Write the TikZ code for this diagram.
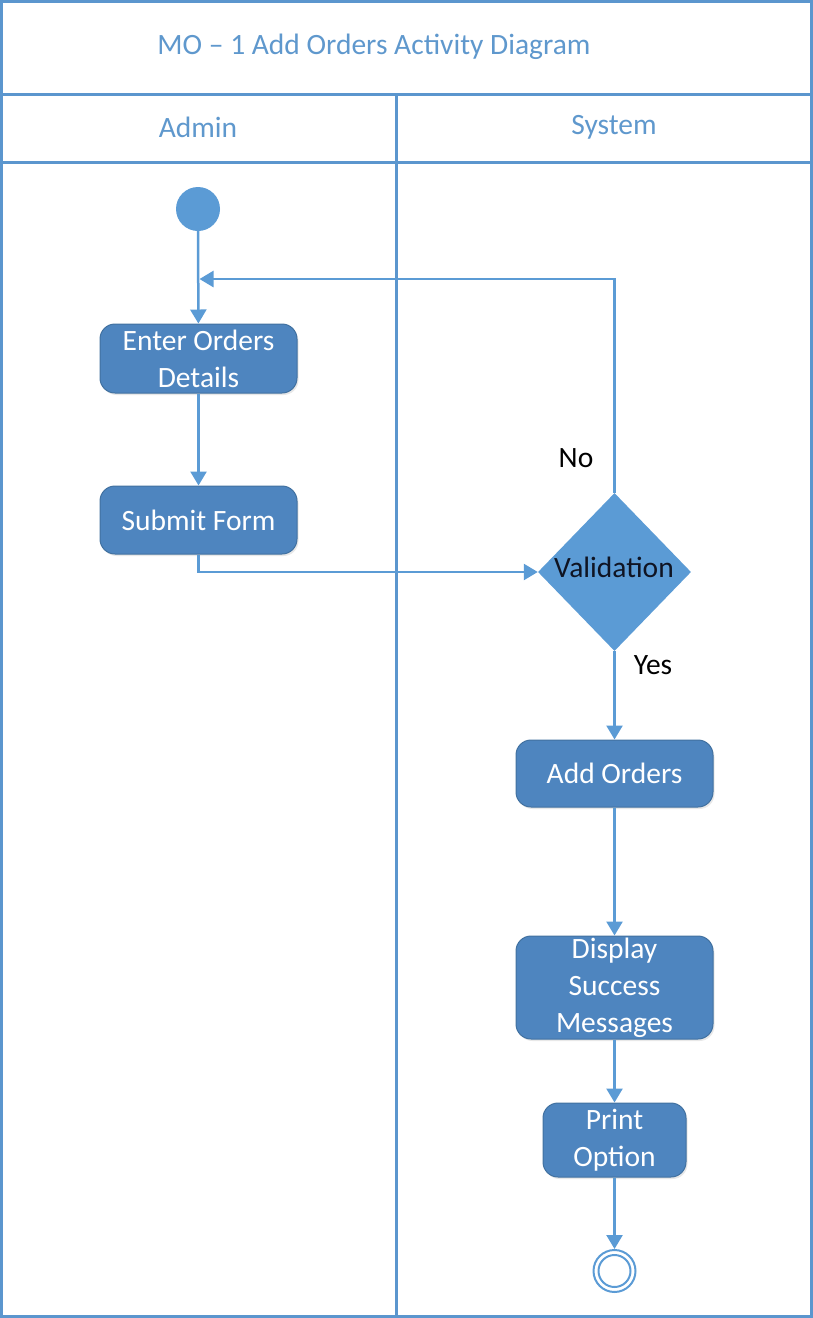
\documentclass[tikz,border=0pt]{standalone}
\usepackage{fontspec}
\setmainfont{Carlito}
\usetikzlibrary{arrows.meta,shapes.geometric,shadows}
\definecolor{frameblue}{RGB}{91,150,206}
\definecolor{lineblue}{RGB}{91,155,213}
\definecolor{boxfill}{RGB}{78,133,191}
\definecolor{boxdraw}{RGB}{65,113,160}
\definecolor{titleblue}{RGB}{95,152,205}
\definecolor{diatext}{RGB}{15,20,35}
\tikzset{
  frameline/.style={draw=frameblue,line width=3pt},
  lanetext/.style={text=titleblue,font=\fontsize{29.5}{34}\selectfont},
  actbox/.style={rectangle,rounded corners=15pt,fill=boxfill,draw=boxdraw,line width=1pt,
    text=white,font=\fontsize{29.5}{37}\selectfont,align=center,inner sep=0pt,
    drop shadow={opacity=0.18,shadow xshift=1.5pt,shadow yshift=-2pt}},
  flow/.style={draw=lineblue,line width=2.5pt,-{Triangle[length=14pt,width=16pt]}},
  lbl/.style={text=black,font=\fontsize{29.5}{34}\selectfont}
}
\begin{document}
\begin{tikzpicture}[x=1pt,y=-1pt]
\useasboundingbox (0,0) rectangle (813,1318);
% frame
\draw[frameline] (1.5,1.5) rectangle (811.5,1316.5);
\draw[frameline] (1.5,94) -- (811.5,94);
\draw[frameline] (1.5,162) -- (811.5,162);
\draw[frameline] (396,94) -- (396,1316.5);
\node[lanetext] (title) at (374,47) {MO – 1 Add Orders Activity Diagram};
\node[lanetext] (admin) at (198,127) {Admin};
\node[lanetext] (system) at (614,127) {System};
% nodes
\node[circle,fill=lineblue,minimum size=44pt,inner sep=0pt] (start) at (198,209) {};
\node[actbox,minimum width=197pt,minimum height=69pt] (enter) at (198.5,358.5) {Enter Orders\\Details};
\node[actbox,minimum width=197pt,minimum height=68pt] (submit) at (198.5,520) {Submit Form};
\node[diamond,fill=lineblue,minimum width=153pt,minimum height=158pt,inner sep=0pt,aspect=1] (dia) at (614.5,572) {};
\node[text=diatext,font=\fontsize{29.5}{34}\selectfont] (valtext) at (614,567) {Validation};
\node[actbox,minimum width=197pt,minimum height=67pt] (add) at (614.5,773.5) {Add Orders};
\node[actbox,minimum width=197pt,minimum height=103pt] (disp) at (614.5,987.5) {Display\\Success\\Messages};
\node[actbox,minimum width=143pt,minimum height=74pt] (print) at (614.5,1140) {Print\\Option};
\node[circle,draw=lineblue,line width=2pt,minimum size=42pt,inner sep=0pt] (endo) at (614.5,1271) {};
\node[circle,draw=lineblue,line width=2pt,minimum size=32pt,inner sep=0pt] (endi) at (614.5,1271) {};
\coordinate (merge) at (198,279);
% labels
\node[lbl] (no) at (576,458) {No};
\node[lbl] (yes) at (653,665) {Yes};
% connectors
\draw[flow] (start) -- (enter);
\draw[flow] (enter) -- (submit);
\draw[flow] (submit.south) |- (dia.west);
\draw[flow] (dia.north) |- ([xshift=1.5pt]merge);
\draw[flow] (dia.south) -- (add);
\draw[flow] (add) -- (disp);
\draw[flow] (disp) -- (print);
\draw[flow] (print) -- (endo);
\end{tikzpicture}
\end{document}
